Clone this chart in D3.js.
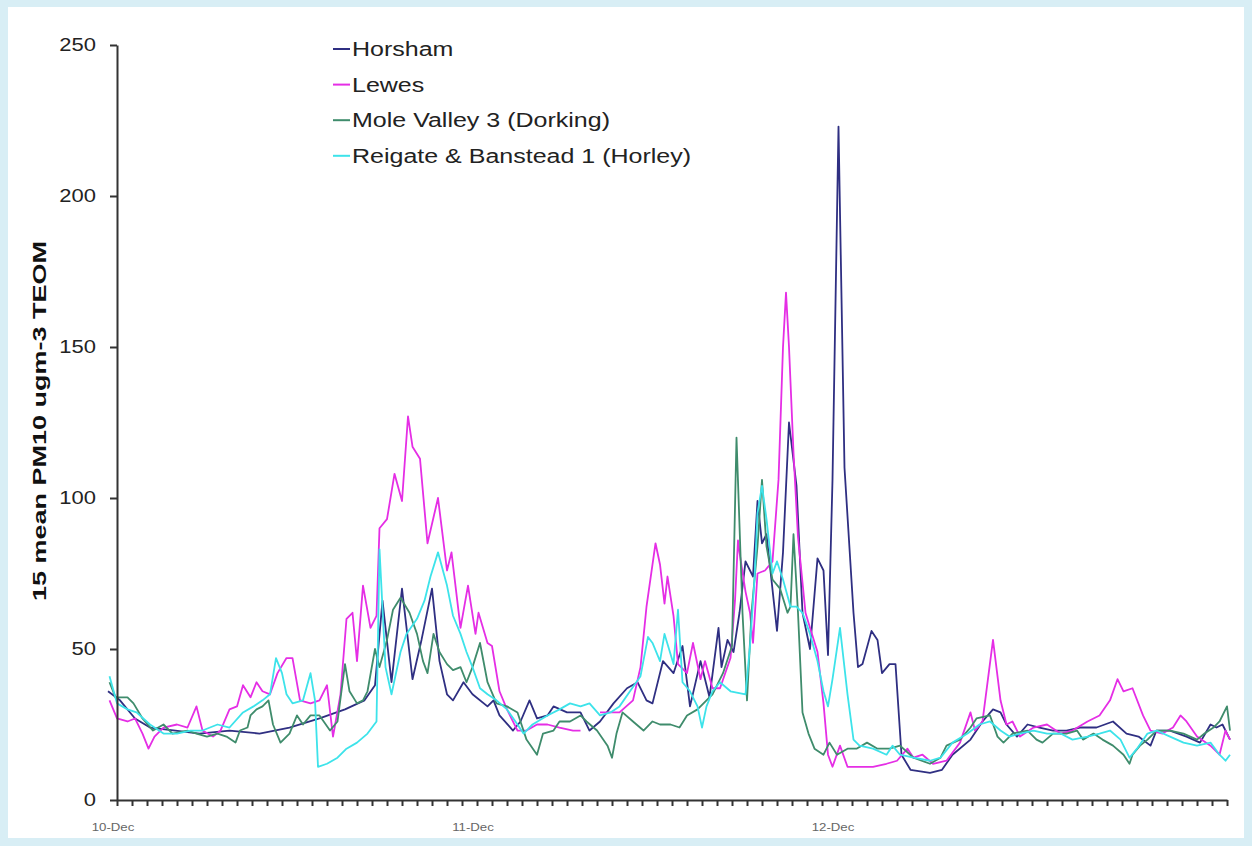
<!DOCTYPE html>
<html>
<head>
<meta charset="utf-8">
<script src="https://cdn.jsdelivr.net/npm/d3@7"></script>
<style>
  body { margin: 0; background: #d8eef5; }
  svg { display: block; font-family: "Liberation Sans", Arial, sans-serif; }
</style>
</head>
<body>
<svg id="chart" width="1252" height="846"></svg>
<script>
// series in drawing order (last one on top)
const seriesNames = ["Horsham", "Lewes", "Mole Valley 3 (Dorking)", "Reigate & Banstead 1 (Horley)"];
const seriesColors = ["#2f2f82", "#e52ee5", "#3f8c6c", "#3de3ea"];
const dayLabels = ["10-Dec", "11-Dec", "12-Dec"];
const yTicks = [0, 50, 100, 150, 200, 250];

// [hours since 10-Dec 00:00, 15 min mean PM10]
const horsham = [[-0.6,36],[0.2,33],[1.2,27],[2.2,24],[3.9,23],[5.5,22],[7.5,23],[9.5,22],[11.5,24],[13.5,27],
  [15.2,30],[16.5,33],[17.2,38],[17.7,66],[18.3,39],[19.0,70],[19.7,40],[20.3,53],[21.0,70],[21.5,46],
  [22.0,35],[22.4,33],[23.1,39],[23.7,35],[24.7,31],[25.1,33],[25.5,28],[26.4,23],[26.9,26],[27.5,33],
  [28.0,27],[28.7,28],[29.1,31],[30.0,29],[30.9,29],[31.5,23],[32.2,26],[33.1,32],[34.0,37],[34.7,39],
  [35.3,33],[35.7,32],[36.4,46],[37.1,42],[37.7,51],[38.2,31],[38.9,46],[39.5,34],[40.1,57],[40.3,44],
  [40.7,53],[41.1,49],[41.5,62],[41.9,79],[42.4,74],[42.7,99],[43.0,85],[43.3,88],[44.0,56],[44.4,82],
  [44.8,125],[45.3,104],[45.7,62],[46.2,50],[46.7,80],[47.1,76],[47.4,48],[47.7,106],[48.1,223],[48.5,110],
  [49.1,62],[49.4,44],[49.7,45],[50.3,56],[50.7,53],[51.0,42],[51.5,45],[51.9,45],[52.3,15],[52.9,10],
  [54.2,9],[55.0,10],[55.7,15],[56.9,20],[57.7,26],[58.4,30],[58.9,29],[59.3,25],[60.0,21],[60.7,25],
  [61.5,24],[62.4,23],[63.3,23],[64.2,24],[65.3,24],[66.4,26],[67.3,22],[68.1,21],[68.9,18],[69.3,23],
  [70.2,23],[71.3,21],[72.2,19],[72.9,25],[73.3,24],[73.7,25],[74.2,20]];

const lewes = [[-0.5,33],[0.0,27],[0.7,26],[1.2,27],[1.7,22],[2.1,17],[2.5,21],[3.1,24],[4.0,25],[4.7,24],
  [5.3,31],[5.7,23],[6.4,21],[6.9,23],[7.5,30],[8.0,31],[8.4,38],[8.9,34],[9.3,39],[9.7,36],
  [10.2,35],[10.7,42],[11.3,47],[11.7,47],[12.2,33],[12.9,32],[13.5,33],[14.0,38],[14.4,21],[14.9,35],
  [15.3,60],[15.7,62],[16.0,46],[16.4,71],[16.9,57],[17.3,61],[17.5,90],[18.0,93],[18.5,108],[19.0,99],
  [19.4,127],[19.7,117],[20.2,113],[20.7,85],[21.4,100],[22.0,76],[22.3,82],[22.9,57],[23.4,71],[23.9,55],
  [24.1,62],[24.7,52],[25.0,51],[25.5,36],[26.0,30],[26.7,23],[27.3,23],[28.0,25],[28.7,25],[29.5,24],
  [30.4,23],[30.9,23],[31.5,null],[32.2,29],[33.5,29],[34.4,33],[34.9,44],[35.3,64],[35.9,85],[36.2,78],
  [36.5,65],[36.7,74],[37.1,61],[37.4,45],[38.0,42],[38.4,52],[38.9,40],[39.2,46],[39.7,37],[40.2,37],
  [40.9,47],[41.2,66],[41.4,86],[41.5,82],[41.9,69],[42.2,62],[42.4,52],[42.7,75],[43.2,76],[43.7,79],
  [44.1,106],[44.4,150],[44.6,168],[44.8,150],[45.1,115],[45.4,87],[45.9,62],[46.2,57],[46.7,49],[47.1,32],
  [47.4,15],[47.7,11],[48.2,18],[48.7,11],[49.3,11],[50.4,11],[51.3,12],[52.0,13],[52.7,17],[53.1,14],
  [53.7,15],[54.4,12],[55.3,13],[56.2,19],[56.9,29],[57.2,23],[57.7,26],[58.4,53],[58.9,33],[59.3,25],
  [59.7,26],[60.2,21],[61.1,24],[62.0,25],[62.9,22],[63.7,23],[64.7,26],[65.5,28],[66.2,33],[66.7,40],
  [67.1,36],[67.7,37],[68.4,28],[68.9,23],[69.7,22],[70.4,24],[70.9,28],[71.3,26],[72.0,21],[72.9,18],
  [73.5,15],[73.9,23],[74.2,20]];

const moleValley = [[-0.5,39],[-0.1,34],[0.7,34],[1.1,32],[1.7,27],[2.4,23],[3.1,25],[3.7,22],[4.7,23],[5.3,22],
  [6.0,21],[6.7,22],[7.3,21],[7.9,19],[8.2,23],[8.7,24],[8.9,28],[9.3,30],[9.7,31],[10.1,33],
  [10.4,25],[10.9,19],[11.5,22],[12.0,28],[12.4,25],[12.9,28],[13.5,28],[14.2,23],[14.7,26],[15.2,45],
  [15.5,36],[16.0,32],[16.4,33],[16.7,36],[17.2,50],[17.5,44],[18.0,53],[18.4,63],[18.9,67],[19.5,62],
  [20.0,55],[20.4,46],[20.7,42],[21.1,55],[21.5,49],[22.0,45],[22.4,43],[22.9,44],[23.3,39],[23.7,44],
  [24.2,52],[24.7,39],[25.3,32],[26.0,31],[26.7,29],[27.3,20],[28.0,15],[28.4,22],[29.1,23],[29.5,26],
  [30.2,26],[30.9,28],[31.3,26],[32.0,23],[32.7,18],[33.0,14],[33.3,22],[33.7,29],[34.4,26],[35.1,23],
  [35.7,26],[36.2,25],[36.9,25],[37.5,24],[38.0,28],[38.7,30],[39.3,33],[39.7,35],[40.4,42],[41.0,51],
  [41.3,120],[41.7,62],[42.0,33],[42.3,62],[42.7,84],[43.0,106],[43.3,84],[43.7,73],[44.2,70],[44.7,62],
  [44.9,64],[45.1,88],[45.4,62],[45.7,29],[46.1,22],[46.5,17],[47.1,15],[47.5,19],[48.0,15],[48.7,17],
  [49.3,17],[50.0,19],[50.7,17],[51.5,17],[52.2,18],[53.1,14],[54.2,12],[54.9,14],[55.3,18],[56.2,20],
  [56.9,24],[57.3,27],[58.2,28],[58.7,21],[59.1,19],[59.7,22],[60.7,23],[61.3,20],[61.7,19],[62.4,22],
  [63.3,22],[64.0,23],[64.4,20],[65.1,22],[65.7,20],[66.4,18],[67.1,15],[67.5,12],[67.7,15],[68.2,18],
  [68.7,20],[69.3,23],[70.2,23],[71.1,22],[72.0,20],[72.5,22],[73.1,24],[73.5,26],[74.0,31],[74.2,23]];

const reigate = [[-0.5,41],[0.0,32],[0.7,30],[1.3,29],[2.2,25],[3.1,22],[4.0,22],[4.9,23],[5.7,23],[6.7,25],
  [7.5,24],[8.4,29],[9.1,31],[9.7,33],[10.2,35],[10.6,47],[11.0,42],[11.3,35],[11.7,32],[12.4,33],
  [12.9,42],[13.2,33],[13.4,11],[14.0,12],[14.7,14],[15.3,17],[16.0,19],[16.7,22],[17.3,26],[17.5,83],
  [17.9,44],[18.3,35],[18.9,49],[19.3,55],[20.0,60],[20.5,66],[20.9,74],[21.4,82],[22.0,71],[22.4,61],
  [22.9,55],[23.3,49],[23.7,44],[24.2,37],[24.7,35],[25.3,33],[26.0,30],[26.7,25],[27.1,22],[27.7,25],
  [28.7,28],[29.5,30],[30.2,32],[30.9,31],[31.5,32],[32.2,28],[32.9,29],[33.5,31],[34.2,36],[34.9,41],
  [35.4,54],[35.7,52],[36.2,46],[36.5,55],[37.1,45],[37.4,63],[37.7,39],[38.2,36],[38.7,31],[39.0,24],
  [39.3,31],[39.7,36],[40.2,39],[40.9,36],[41.9,35],[42.2,51],[42.5,73],[42.7,95],[43.0,104],[43.3,93],
  [43.7,75],[44.0,79],[44.4,73],[44.9,64],[45.3,64],[45.7,62],[46.2,55],[46.7,46],[47.1,36],[47.4,31],
  [47.7,40],[48.2,57],[48.7,35],[49.1,20],[49.5,18],[50.4,17],[51.3,15],[51.7,18],[52.2,15],[53.1,14],
  [54.2,13],[54.9,14],[55.7,19],[56.7,22],[57.5,25],[58.2,26],[58.9,23],[59.5,21],[60.2,22],[61.1,23],
  [62.0,22],[62.9,22],[63.7,20],[64.7,21],[65.5,22],[66.2,23],[66.9,20],[67.5,14],[68.0,17],[68.7,22],
  [69.3,23],[70.2,21],[71.1,19],[72.0,18],[72.9,19],[73.5,15],[73.9,13],[74.2,15]];

const seriesData = [horsham, lewes, moleValley, reigate];

const svg = d3.select("#chart");
const W = 1252, H = 846;

// the reference text is a little wider than plain Arial
function stretch(sel, k) {
  sel.each(function () {
    const w = this.getComputedTextLength();
    d3.select(this).attr("textLength", w * k).attr("lengthAdjust", "spacingAndGlyphs");
  });
}

// white panel inside the light blue frame
svg.append("rect").attr("x", 8).attr("y", 7).attr("width", W - 16).attr("height", H - 15).attr("fill", "#ffffff");

const x = d3.scaleLinear().domain([0, 74]).range([117, 1227]);
const y = d3.scaleLinear().domain([0, 250]).range([800, 45]);

// lines
const line = d3.line()
  .defined(d => d[1] != null)
  .x(d => x(d[0]))
  .y(d => y(d[1]));

svg.append("g").selectAll("path")
  .data(seriesData)
  .join("path")
  .attr("d", line)
  .attr("fill", "none")
  .attr("stroke", (d, i) => seriesColors[i])
  .attr("stroke-width", 1.8)
  .attr("stroke-linejoin", "round");

// y axis
const yAxis = svg.append("g")
  .attr("transform", `translate(${x(0)},0)`)
  .call(d3.axisLeft(y).tickValues(yTicks).tickSize(7).tickSizeOuter(0).tickPadding(14));
yAxis.select(".domain").attr("stroke", "#333").attr("stroke-width", 2);
yAxis.selectAll(".tick line").attr("stroke", "#333").attr("stroke-width", 2);
yAxis.selectAll(".tick text")
  .attr("font-family", "Liberation Sans, Arial, sans-serif")
  .attr("font-size", 18).attr("fill", "#222");
stretch(yAxis.selectAll(".tick text"), 1.22);

// x axis, hourly ticks
const xAxis = svg.append("g")
  .attr("transform", `translate(0,${y(0)})`)
  .call(d3.axisBottom(x).tickValues(d3.range(0, 75)).tickSize(6).tickSizeOuter(0).tickFormat(""));
xAxis.select(".domain").attr("stroke", "#333").attr("stroke-width", 2);
xAxis.selectAll(".tick line").attr("stroke", "#333").attr("stroke-width", 2);

const dayText = svg.append("g").selectAll("text")
  .data(dayLabels)
  .join("text")
  .attr("x", (d, i) => x(i * 24) - 4)
  .attr("y", 831)
  .attr("text-anchor", "middle")
  .attr("font-size", 11.5)
  .attr("fill", "#666")
  .text(d => d);
stretch(dayText, 1.15);

// y title
const yTitle = svg.append("text")
  .attr("transform", "translate(46,421) rotate(-90)")
  .attr("text-anchor", "middle")
  .attr("font-size", 18)
  .attr("font-weight", "bold")
  .attr("fill", "#111")
  .text("15 mean PM10 ugm-3 TEOM");
stretch(yTitle, 1.5);

// legend
const legend = svg.append("g").attr("transform", "translate(333,49)");
const item = legend.selectAll("g")
  .data(seriesNames)
  .join("g")
  .attr("transform", (d, i) => `translate(0,${i * 35.6})`);
item.append("line")
  .attr("x1", 0).attr("x2", 17)
  .attr("stroke", (d, i) => seriesColors[i])
  .attr("stroke-width", 2);
const legendText = item.append("text")
  .attr("x", 19)
  .attr("dy", "0.35em")
  .attr("font-size", 20)
  .attr("fill", "#222")
  .text(d => d);
stretch(legendText, 1.25);
</script>
</body>
</html>
